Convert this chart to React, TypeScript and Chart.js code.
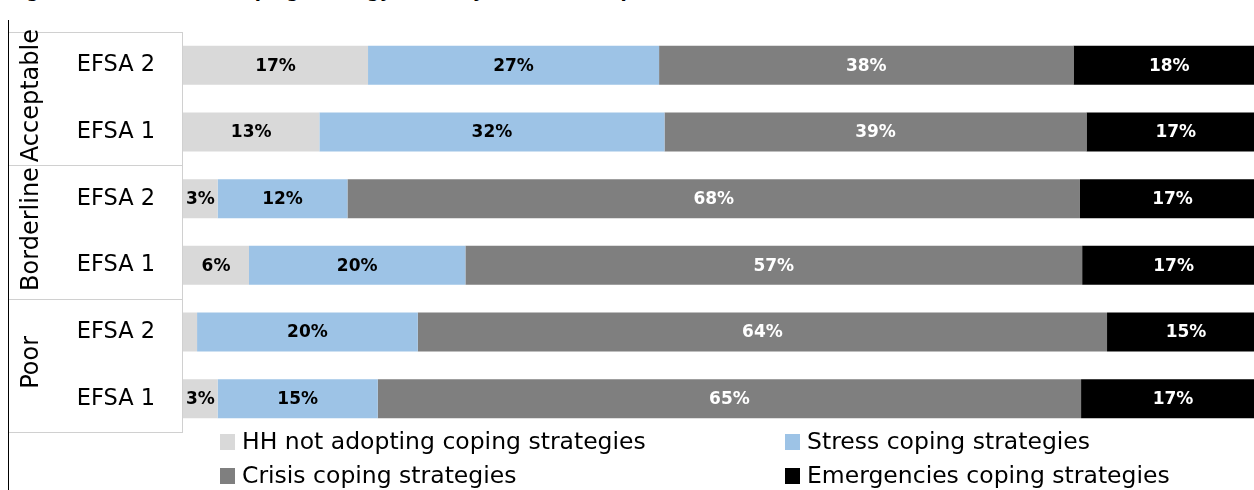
import React, { useEffect, useRef } from "react";
import { Chart, registerables } from "chart.js";

Chart.register(...registerables);

const titleText = "Figure 10: Household coping strategy index by food consumption score";
const groupNames = ["Acceptable", "Borderline", "Poor"];
const rowLabels = ["EFSA 2", "EFSA 1", "EFSA 2", "EFSA 1", "EFSA 2", "EFSA 1"];
const seriesNames = [
  "HH not adopting coping strategies",
  "Stress coping strategies",
  "Crisis coping strategies",
  "Emergencies coping strategies",
];
const notAdopting = [17.1, 12.6, 3.2, 6.1, 1.3, 3.2];
const stress = [26.9, 31.9, 12.0, 20.0, 20.4, 14.8];
const crisis = [38.3, 39.0, 67.7, 57.0, 63.7, 65.0];
const emergency = [17.7, 16.5, 17.1, 16.9, 14.6, 17.0];
const seriesColors = ["#D9D9D9", "#9DC3E6", "#7F7F7F", "#000000"];
const labelColors = ["#000000", "#000000", "#FFFFFF", "#FFFFFF"];

const FONT = "'DejaVu Sans', sans-serif";

const decorPlugin = {
  id: "decor",
  afterDatasetsDraw(chart: any) {
    const ctx = chart.ctx;
    ctx.save();
    ctx.font = `bold 17px ${FONT}`;
    ctx.textAlign = "center";
    ctx.textBaseline = "middle";
    chart.data.datasets.forEach((ds: any, di: number) => {
      const meta = chart.getDatasetMeta(di);
      meta.data.forEach((bar: any, i: number) => {
        const v = ds.data[i];
        if (v < 2) return;
        ctx.fillStyle = labelColors[di];
        ctx.fillText(Math.round(v) + "%", (bar.x + bar.base) / 2, bar.y + 1);
      });
    });
    ctx.restore();
  },
  afterDraw(chart: any) {
    const ctx = chart.ctx;
    const y = chart.scales.y;
    const area = chart.chartArea;
    const n = rowLabels.length;
    const step = y.getPixelForValue(1) - y.getPixelForValue(0);
    const top = y.getPixelForValue(0) - step / 2;
    const bottom = y.getPixelForValue(n - 1) + step / 2;
    ctx.save();
    ctx.strokeStyle = "#D0D0D0";
    ctx.lineWidth = 1;
    ctx.beginPath();
    const bounds = [top];
    for (let g = 1; g < groupNames.length; g++) {
      bounds.push((y.getPixelForValue(g * 2 - 1) + y.getPixelForValue(g * 2)) / 2);
    }
    bounds.push(bottom);
    bounds.forEach((b) => {
      ctx.moveTo(9, Math.round(b) + 0.5);
      ctx.lineTo(area.left, Math.round(b) + 0.5);
    });
    ctx.moveTo(Math.round(area.left) - 0.5, top);
    ctx.lineTo(Math.round(area.left) - 0.5, bottom);
    ctx.stroke();
    ctx.strokeStyle = "#000000";
    ctx.lineWidth = 1;
    ctx.beginPath();
    ctx.moveTo(8.5, 20);
    ctx.lineTo(8.5, chart.height);
    ctx.stroke();
    ctx.fillStyle = "#000000";
    ctx.font = `24px ${FONT}`;
    ctx.textAlign = "center";
    ctx.textBaseline = "middle";
    groupNames.forEach((name, g) => {
      const cy = (bounds[g] + bounds[g + 1]) / 2 - 3;
      ctx.save();
      ctx.translate(32, cy);
      ctx.rotate(-Math.PI / 2);
      ctx.fillText(name, 0, 0);
      ctx.restore();
    });
    ctx.font = `23.5px ${FONT}`;
    ctx.textAlign = "left";
    const cols = [220, 785];
    const rows = [442, 476];
    chart.data.datasets.forEach((ds: any, i: number) => {
      const lx = cols[i % 2];
      const ly = rows[Math.floor(i / 2)];
      ctx.fillStyle = ds.backgroundColor;
      ctx.fillRect(lx, ly - 8, 15, 16);
      ctx.fillStyle = "#000000";
      ctx.fillText(ds.label, lx + 22, ly + 1);
    });
    ctx.restore();
  },
};

export default function App() {
  const ref = useRef<HTMLCanvasElement | null>(null);
  useEffect(() => {
    if (!ref.current) return;
    const values = [notAdopting, stress, crisis, emergency];
    const chart = new Chart(ref.current, {
      type: "bar",
      data: {
        labels: rowLabels,
        datasets: values.map((d, i) => ({
          label: seriesNames[i],
          data: d,
          backgroundColor: seriesColors[i],
          borderWidth: 0,
          barPercentage: 0.585,
          categoryPercentage: 1,
        })),
      },
      options: {
        indexAxis: "y",
        responsive: false,
        animation: false,
        devicePixelRatio: 1,
        layout: { padding: { top: 32, bottom: 58, left: 0, right: 5 } },
        plugins: { legend: { display: false }, tooltip: { enabled: false }, title: { display: false } },
        scales: {
          x: { stacked: true, min: 0, max: 100, display: false },
          y: {
            stacked: true,
            grid: { display: false, drawTicks: false },
            border: { display: false },
            ticks: { color: "#000000", font: { family: FONT, size: 22.5 }, padding: 28 },
            afterFit: (scale: any) => {
              scale.width = 183;
              scale.paddingTop = 0;
              scale.paddingBottom = 0;
            },
          },
        },
      },
      plugins: [decorPlugin],
    } as any);
    return () => chart.destroy();
  }, []);
  return (
    <div style={{ position: "fixed", left: 0, top: 0, width: 1254, height: 490, overflow: "hidden", background: "#fff" }}>
      <div
        style={{
          position: "absolute",
          left: 8,
          top: -19,
          font: `bold 18px ${FONT}`,
          lineHeight: "20px",
          whiteSpace: "nowrap",
          color: "#000",
        }}
      >
        {titleText}
      </div>
      <canvas ref={ref} width={1270} height={490} style={{ position: "absolute", left: 0, top: 0 }} />
    </div>
  );
}
